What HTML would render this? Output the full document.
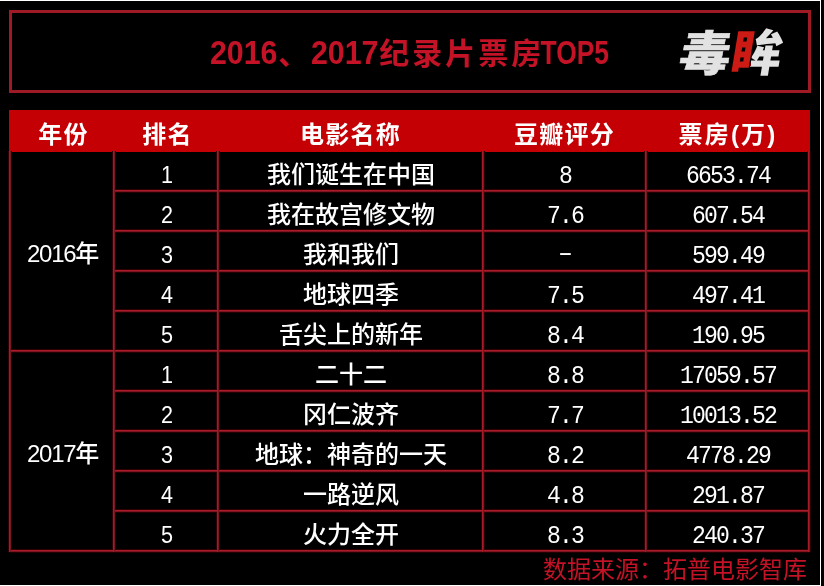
<!DOCTYPE html>
<html lang="zh-CN">
<head>
<meta charset="utf-8">
<title>2016、2017纪录片票房TOP5</title>
<style>
html,body{margin:0;padding:0;background:#000;}
body{width:824px;height:586px;overflow:hidden;}
#page{position:relative;width:824px;height:586px;background:#000;overflow:hidden;
  font-family:"Liberation Sans","Noto Sans CJK SC",sans-serif;color:#fff;font-size:24px;}
.wline{position:absolute;background:#fff;}
.wtop{left:0;top:0;width:821px;height:1px;}
.wright{left:820px;top:0;width:1px;height:586px;}
.wbottom{left:0;top:585px;width:821px;height:1px;}
.titlebox{position:absolute;left:9px;top:10px;width:796px;height:77px;border:3px solid #9e1a24;}
.title{position:absolute;left:198px;top:20px;white-space:nowrap;font-size:30px;letter-spacing:3px;line-height:40px;font-weight:bold;color:#c41226;}
.n{display:inline-block;transform:scaleX(0.9);transform-origin:50% 50%;white-space:nowrap;}
.tn{font-size:33px;letter-spacing:0;vertical-align:baseline;transform:scaleX(0.92);margin:0 -2.4px 0 -2.9px;}
.tt{font-size:33px;letter-spacing:0;transform:scaleX(0.8);margin:0 -8.6px 0 -12.4px;}
.logo{position:absolute;left:664px;top:17.5px;font-size:48px;line-height:48px;font-weight:900;color:#e2e2e2;white-space:nowrap;transform:skewX(-9.5deg) scaleX(1.06);transform-origin:0 100%;-webkit-text-stroke:0.5px currentColor;}
.l1{display:inline-block;width:1em;margin-right:0.5px;vertical-align:top;}
.l2{display:inline-block;width:1em;vertical-align:top;padding:8px 0;margin:-8px 0;transform:scaleY(1.03);transform-origin:50% 70%;color:transparent;-webkit-text-stroke:0;background:linear-gradient(to right,#cc1a14 0 40%,#e2e2e2 40% 100%);-webkit-background-clip:text;background-clip:text;}
.thead{position:absolute;left:9px;top:110px;width:801px;height:42px;background:#c40004;font-weight:bold;letter-spacing:1.2px;}
.th{position:absolute;top:0;height:42px;line-height:50px;text-align:center;white-space:nowrap;}
.c1{left:1px;width:104px;}
.c2{left:105px;width:104px;}
.c3{left:209px;width:265px;}
.c4{left:474px;width:163px;}
.c5{left:637px;width:163px;}
.tbody{position:absolute;left:9px;top:151px;width:801px;height:401px;}
.vl{position:absolute;top:0;width:2px;height:401px;background:linear-gradient(to right,#a41c2a 0 1px,#7a1622 1px 2px);}
.vl.g{width:4px;margin-left:-1px;background:linear-gradient(to right,#300004 0 2px,#240002 2px 4px);}
.hl{position:absolute;left:105px;width:696px;height:2px;background:linear-gradient(to bottom,#aa1a28 0 1px,#7e1420 1px 2px);}
.hl.g{height:4px;margin-top:-1px;background:linear-gradient(to bottom,#2e0004 0 2px,#220002 2px 4px);}
.hl.full{left:0;width:801px;}
.tr{position:absolute;left:2px;width:797px;height:40px;}
.td{font-weight:500;position:absolute;top:0.5px;height:40px;line-height:46px;text-align:center;white-space:nowrap;}
.tbody .c3{margin-left:-1.5px;}
.tbody .c2,.tbody .c4,.tbody .c5{margin-left:-0.7px;}
.thead .c1,.thead .c2{margin-left:1.5px;}
.thead .c5{margin-left:0.5px;letter-spacing:2.2px;}
.yr{font-weight:500;letter-spacing:-1.3px;position:absolute;left:1.5px;width:104px;height:200px;line-height:206px;text-align:center;white-space:nowrap;}
.td.num{transform:scaleX(0.9);}
.td.c4.num,.td.c5.num{font-family:"Liberation Mono","Noto Sans CJK SC",monospace;font-size:25px;letter-spacing:-2px;transform:translate(-0.5px,1.8px) scaleX(0.923);}
.td.dash{transform:translateY(-3px) scaleX(1.8);}
.src{position:absolute;right:17px;top:553.5px;font-size:24px;line-height:32px;color:#c41226;white-space:nowrap;}
</style>
</head>
<body>
<div id="page">
<div class="wline wtop"></div><div class="wline wright"></div><div class="wline wbottom"></div>
<div class="titlebox"><div class="title"><span class="n tn">2016</span>、<span class="n tn">2017</span>纪录片票房<span class="n tt">TOP5</span></div>
<div class="logo"><span class="l1">毒</span><span class="l2">眸</span></div></div>
<div class="thead"><div class="th c1">年份</div><div class="th c2">排名</div><div class="th c3">电影名称</div><div class="th c4">豆瓣评分</div><div class="th c5">票房(万)</div></div>
<div class="tbody">
<div class="hl g" style="top:39px"></div><div class="hl g" style="top:79px"></div><div class="hl g" style="top:119px"></div><div class="hl g" style="top:159px"></div><div class="hl full g" style="top:199px"></div><div class="hl g" style="top:239px"></div><div class="hl g" style="top:279px"></div><div class="hl g" style="top:319px"></div><div class="hl g" style="top:359px"></div><div class="hl full g" style="top:399px"></div>
<div class="vl g" style="left:0px"></div><div class="vl g" style="left:104px"></div><div class="vl g" style="left:208px"></div><div class="vl g" style="left:473px"></div><div class="vl g" style="left:636px"></div><div class="vl g" style="left:799px"></div>
<div class="hl" style="top:39px"></div><div class="hl" style="top:79px"></div><div class="hl" style="top:119px"></div><div class="hl" style="top:159px"></div><div class="hl full" style="top:199px"></div><div class="hl" style="top:239px"></div><div class="hl" style="top:279px"></div><div class="hl" style="top:319px"></div><div class="hl" style="top:359px"></div><div class="hl full" style="top:399px"></div>
<div class="vl" style="left:0px"></div><div class="vl" style="left:104px"></div><div class="vl" style="left:208px"></div><div class="vl" style="left:473px"></div><div class="vl" style="left:636px"></div><div class="vl" style="left:799px"></div>
<div class="yr" style="top:0px">2016年</div><div class="yr" style="top:200px">2017年</div>
<div class="tr" style="top:0px"><div class="td c2 num">1</div><div class="td c3">我们诞生在中国</div><div class="td c4 num">8</div><div class="td c5 num">6653.74</div></div>
<div class="tr" style="top:40px"><div class="td c2 num">2</div><div class="td c3">我在故宫修文物</div><div class="td c4 num">7.6</div><div class="td c5 num">607.54</div></div>
<div class="tr" style="top:80px"><div class="td c2 num">3</div><div class="td c3">我和我们</div><div class="td c4 dash">-</div><div class="td c5 num">599.49</div></div>
<div class="tr" style="top:120px"><div class="td c2 num">4</div><div class="td c3">地球四季</div><div class="td c4 num">7.5</div><div class="td c5 num">497.41</div></div>
<div class="tr" style="top:160px"><div class="td c2 num">5</div><div class="td c3">舌尖上的新年</div><div class="td c4 num">8.4</div><div class="td c5 num">190.95</div></div>
<div class="tr" style="top:200px"><div class="td c2 num">1</div><div class="td c3">二十二</div><div class="td c4 num">8.8</div><div class="td c5 num">17059.57</div></div>
<div class="tr" style="top:240px"><div class="td c2 num">2</div><div class="td c3">冈仁波齐</div><div class="td c4 num">7.7</div><div class="td c5 num">10013.52</div></div>
<div class="tr" style="top:280px"><div class="td c2 num">3</div><div class="td c3">地球：神奇的一天</div><div class="td c4 num">8.2</div><div class="td c5 num">4778.29</div></div>
<div class="tr" style="top:320px"><div class="td c2 num">4</div><div class="td c3">一路逆风</div><div class="td c4 num">4.8</div><div class="td c5 num">291.87</div></div>
<div class="tr" style="top:360px"><div class="td c2 num">5</div><div class="td c3">火力全开</div><div class="td c4 num">8.3</div><div class="td c5 num">240.37</div></div>
</div>
<div class="src">数据来源：拓普电影智库</div>
</div>
</body>
</html>
